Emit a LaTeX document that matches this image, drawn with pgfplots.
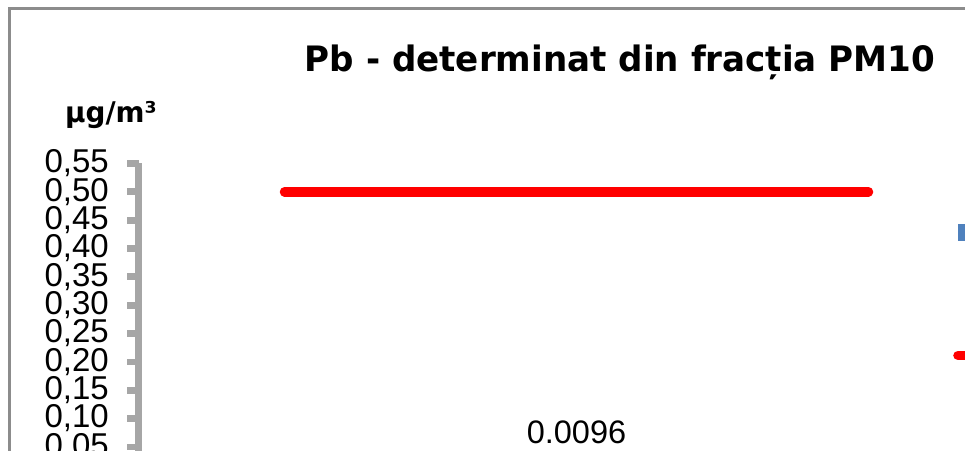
\documentclass[border=0pt]{standalone}
\usepackage{pgfplots}
\pgfplotsset{compat=1.18}
\usepackage{fontspec}
\setmainfont{Liberation Sans}
\newfontfamily\headfont[FakeStretch=0.975]{DejaVu Sans}
\definecolor{axisgray}{HTML}{A6A6A6}
\definecolor{framegray}{HTML}{8C8C8C}
\definecolor{barblue}{HTML}{4F81BD}
\definecolor{limitred}{HTML}{FF0000}

\begin{document}
\begin{tikzpicture}
\useasboundingbox (0,0) rectangle (965pt,450pt);
\clip (0,0) rectangle (965pt,450pt);
% chart frame
\draw[framegray, line width=3pt] (9pt,-50pt) -- (9pt,441.2pt) -- (1100pt,441.2pt);
\begin{axis}[
  at={(138.5pt,-25.2pt)}, anchor=south west,
  scale only axis, width=876pt, height=311.7pt,
  xmin=0.25, xmax=1.75, ymin=0, ymax=0.55,
  axis x line=none, axis y line*=left,
  axis line style={axisgray, line width=6.7pt},
  ytick={0,0.05,0.1,0.15,0.2,0.25,0.3,0.35,0.4,0.45,0.5,0.55},
  tick align=outside, major tick length=11.5pt,
  tick style={axisgray, line width=6.7pt},
  /pgf/number format/assume math mode=true,
  y tick label style={/pgf/number format/.cd, fixed, fixed zerofill, precision=2, use comma,
    /tikz/.cd, font=\fontsize{33}{33}\selectfont, anchor=east, inner sep=0pt, xshift=-18pt},
  title={Pb - determinat din fracția PM10},
  title style={font=\headfont\bfseries\fontsize{35}{35}\selectfont,
    at={(axis description cs:0.5497,1.2753)}, anchor=base, inner sep=0pt},
  ylabel={µg/m³},
  ylabel style={font=\headfont\bfseries\fontsize{28.5}{28.5}\selectfont, rotate=-90,
    at={(axis description cs:-0.0839,1.13)}, anchor=base west, inner sep=0pt},
  clip=false,
  legend style={draw=none, fill=none, at={(axis description cs:0.9298,0.825)},
    anchor=north west, inner sep=0pt, row sep=94pt, font=\fontsize{32}{32}\selectfont},
  legend cell align=left,
]
\addplot[ybar, bar width=60pt, fill=barblue, draw=none,
  nodes near coords={\pgfmathprintnumber[fixed, precision=4]{\pgfplotspointmeta}},
  point meta=y,
  every node near coord/.append style={font=\fontsize{32.5}{32.5}\selectfont, anchor=base,
    yshift=25.8pt, inner sep=0pt, text=black},
  legend image code/.code={\fill[barblue] (0pt,-8.5pt) rectangle (17pt,8.5pt);}]
  coordinates {(1,0.0096)};
\addlegendentry{Pb}
\addplot[limitred, line width=9.5pt, line cap=round,
  legend image code/.code={\draw[limitred, line width=9.5pt, line cap=round] (0pt,0pt) -- (40pt,0pt);}]
  coordinates {(0.5,0.5) (1.5,0.5)};
\addlegendentry{Valoare limită}
\end{axis}
\end{tikzpicture}
\end{document}
